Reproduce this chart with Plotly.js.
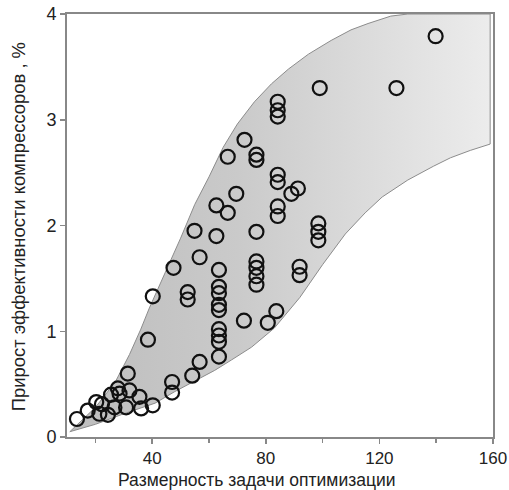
<!DOCTYPE html>
<html>
<head>
<meta charset="utf-8">
<script src="https://cdn.plot.ly/plotly-3.0.1.min.js"></script>
<style>html,body{margin:0;padding:0;background:#fff;}#chart{width:509px;height:490px;}</style>
</head>
<body>
<div id="chart"></div>
<script>
// Observed points: problem dimension (x) vs compressor efficiency gain, % (y)
const pointsX = [13.5,17.3,20.3,21.4,22.3,24.4,25.5,26.7,27.9,28.5,30.8,31.4,32,35.5,36.1,40.2,47,47,54.1,56.7,
  38.5,40.2,47.5,52.5,52.5,56.7,54.9,
  63.5,63.5,63.5,63.5,63.5,63.5,63.5,63.5,63.5,62.6,62.6,66.6,
  66.6,69.6,72.5,72.3,
  76.7,76.7,76.7,76.7,76.7,76.7,76.7,
  80.7,83.7,
  84.2,84.2,84.2,84.2,84.2,84.2,84.2,
  89,91.3,91.9,91.9,
  98.5,98.5,98.5,
  99,126,139.8];
const pointsY = [0.17,0.25,0.33,0.22,0.31,0.21,0.40,0.28,0.46,0.41,0.28,0.60,0.44,0.38,0.27,0.30,0.52,0.42,0.58,0.71,
  0.92,1.33,1.60,1.37,1.30,1.70,1.95,
  0.76,0.90,0.96,1.02,1.20,1.25,1.36,1.42,1.58,1.90,2.19,2.12,
  2.65,2.30,2.81,1.10,
  1.44,1.52,1.60,1.66,1.94,2.62,2.67,
  1.08,1.19,
  2.09,2.18,2.41,2.48,3.03,3.09,3.17,
  2.30,2.35,1.53,1.61,
  1.86,1.94,2.02,
  3.30,3.30,3.79];

// Envelope of the shaded band
const upperX = [11,20,27,32,36,39,42,45,50,55,60,65,70,76,82,88,95,103,110,116,124,130,159];
const upperY = [0.05,0.28,0.52,0.78,1.02,1.22,1.40,1.58,1.88,2.20,2.46,2.74,2.96,3.17,3.34,3.48,3.62,3.75,3.85,3.91,3.98,4.0,4.0];
const lowerX = [11,20,30,41,48,55,62,68,75,83,92,100,108,115,121,130,139,145,152,159];
const lowerY = [0.05,0.12,0.22,0.32,0.43,0.53,0.63,0.73,0.85,1.03,1.32,1.63,1.92,2.12,2.27,2.43,2.56,2.64,2.71,2.77];

const xTickVals = [40,80,120,160];
const xMinorVals = [20,60,100,140];
const yTickVals = [0,1,2,3,4];
const xTitle = 'Размерность задачи оптимизации';
const yTitle = 'Прирост эффективности компрессоров , %';

const bandX = upperX.concat(lowerX.slice().reverse());
const bandY = upperY.concat(lowerY.slice().reverse());

const band = {
  x: bandX, y: bandY, type: 'scatter', mode: 'lines', fill: 'toself',
  fillgradient: {type: 'horizontal', colorscale: [[0,'#bdbdbd'],[0.4,'#cacaca'],[0.75,'#dedede'],[1,'#ececec']]},
  line: {color: '#8c8c8c', width: 1}, hoverinfo: 'skip', showlegend: false
};
const pts = {
  x: pointsX, y: pointsY, type: 'scatter', mode: 'markers',
  marker: {symbol: 'circle-open', size: 14, color: '#111', line: {width: 2.2, color: '#111'}},
  showlegend: false
};

const fam = 'Liberation Sans, Arial, sans-serif';
const layout = {
  width: 509, height: 490,
  margin: {l: 67, r: 16, t: 14, b: 53},
  paper_bgcolor: '#fff', plot_bgcolor: '#fff',
  font: {family: fam, color: '#222'},
  xaxis: {
    range: [10,160], tickvals: xTickVals, ticktext: xTickVals.map(String),
    ticks: 'outside', ticklen: 5, tickwidth: 1.5, tickcolor: '#888',
    minor: {tickvals: xMinorVals, ticks: 'outside', ticklen: 4, tickcolor: '#888', showgrid: false},
    showline: true, linecolor: '#888', linewidth: 2, mirror: true,
    showgrid: false, zeroline: false,
    tickfont: {size: 17, family: fam, color: '#222'}
  },
  yaxis: {
    range: [0,4], tickvals: yTickVals, ticktext: yTickVals.map(String),
    ticks: 'outside', ticklen: 5, tickwidth: 1.5, tickcolor: '#888',
    showline: true, linecolor: '#888', linewidth: 2, mirror: true,
    showgrid: false, zeroline: false,
    tickfont: {size: 18, family: fam, color: '#222'}
  },
  annotations: [
    {text: xTitle, xref: 'paper', yref: 'paper', x: 0.446, y: -0.102, xanchor: 'center', yanchor: 'middle',
     showarrow: false, font: {size: 17.5, family: fam, color: '#222'}},
    {text: yTitle, xref: 'paper', yref: 'paper', x: -0.115, y: 0.496, xanchor: 'center', yanchor: 'middle',
     textangle: -90, showarrow: false, font: {size: 18.4, family: fam, color: '#222'}}
  ]
};
Plotly.newPlot('chart', [band, pts], layout, {staticPlot: true, displayModeBar: false});
</script>
</body>
</html>
